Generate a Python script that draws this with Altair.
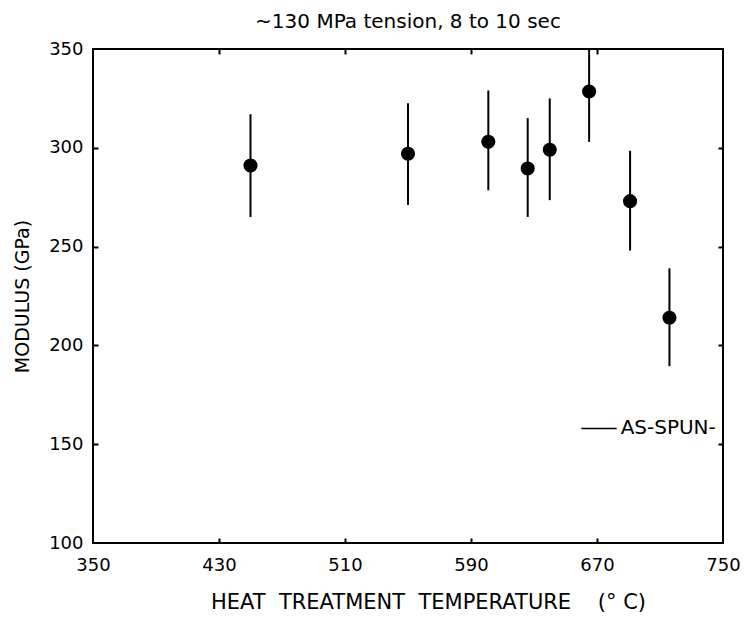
import altair as alt
import pandas as pd

# ---- data ----
temps = [450, 550, 601, 626, 640, 665, 691, 716]
modulus = [291, 297, 303, 289.5, 299, 328.5, 273, 214]
upper = [317, 322.5, 329, 315, 325, 353.5, 298.5, 239]
lower = [265, 271, 278.5, 265, 273.5, 303, 248, 189.5]

x_label_ticks = [350, 430, 510, 590, 670, 750]
y_label_ticks = [100, 150, 200, 250, 300, 350]
x_inner_ticks = [430, 510, 590, 670]
y_inner_ticks = [150, 200, 250, 300]

as_spun_x = [660, 682.5]
as_spun_y = [158]
as_spun_label_x = [685]
as_spun_label = ["AS-SPUN-"]

NB = "\u00a0"
title_text = "~130 MPa tension, 8 to 10 sec"
x_title = ("HEAT" + NB * 2 + "TREATMENT" + NB * 2 + "TEMPERATURE" + NB * 4 + "(°" + NB + "C)")
y_title = "MODULUS (GPa)"

df = pd.DataFrame({"temp": temps, "modulus": modulus, "upper": upper, "lower": lower})
ann = pd.DataFrame({
    "x": [as_spun_x[0]], "x2": [as_spun_x[1]], "y": as_spun_y,
    "tx": as_spun_label_x, "label": as_spun_label,
})

FONT = "DejaVu Sans"
W, H = 630, 494

xscale = alt.Scale(domain=[350, 750], nice=False, zero=False)
yscale = alt.Scale(domain=[100, 350], nice=False, zero=False)


def tick_axis(orient, offset, values):
    return alt.Axis(orient=orient, offset=offset, values=values, labels=False,
                    domain=False, grid=False, ticks=True, tickSize=5, tickWidth=2,
                    tickColor="black", title=None)


bars = alt.Chart(df).mark_rule(color="black", strokeWidth=2, clip=True).encode(
    x=alt.X("temp:Q", scale=xscale, axis=tick_axis("top", -H, x_inner_ticks)),
    y=alt.Y("lower:Q", scale=yscale, axis=tick_axis("right", -W, y_inner_ticks)),
    y2="upper:Q",
)

points = alt.Chart(df).mark_point(filled=True, shape="circle", size=200,
                                  color="black", opacity=1).encode(
    x=alt.X("temp:Q", scale=xscale, axis=alt.Axis(
        orient="bottom", values=x_label_ticks, ticks=False, domain=False, grid=False,
        labelFlush=False, labelFont=FONT, labelFontSize=18, labelColor="black",
        labelPadding=22, labelBaseline="middle",
        title=x_title, titleFont=FONT, titleFontSize=21, titleFontWeight="normal",
        titleColor="black", titleX=335, titleY=59, titleBaseline="middle",
        titleAlign="center")),
    y=alt.Y("modulus:Q", scale=yscale, axis=alt.Axis(
        orient="left", values=y_label_ticks, ticks=False, domain=False, grid=False,
        labelFont=FONT, labelFontSize=18, labelColor="black", labelPadding=10,
        title=y_title, titleFont=FONT, titleFontSize=19, titleFontWeight="normal",
        titleColor="black", titleX=-71, titleY=H / 2, titleBaseline="middle",
        titleAlign="center", titleAngle=270)),
)

ann_rule = alt.Chart(ann).mark_rule(color="black", strokeWidth=1.5).encode(
    x=alt.X("x:Q", scale=xscale, axis=tick_axis("bottom", -H, x_inner_ticks)),
    x2="x2:Q",
    y=alt.Y("y:Q", scale=yscale, axis=tick_axis("left", -W, y_inner_ticks)),
)

ann_text = alt.Chart(ann).mark_text(align="left", baseline="middle", font=FONT,
                                    fontSize=20, color="black").encode(
    x=alt.X("tx:Q", scale=xscale, axis=None),
    y=alt.Y("y:Q", scale=yscale, axis=None),
    text="label:N",
)

chart = alt.layer(bars, points, ann_rule, ann_text).resolve_axis(
    x="independent", y="independent"
).properties(
    width=W, height=H,
    title=alt.TitleParams(text=title_text, font=FONT, fontSize=20, fontWeight="normal",
                          color="black", anchor="middle", frame="group", offset=-8,
                          baseline="alphabetic"),
    autosize=alt.AutoSizeParams(type="none"),
    padding={"left": 85, "top": 41, "right": 17, "bottom": 70},
).configure_view(stroke="black", strokeWidth=2)

chart.save("out.html", embed_options={"renderer": "svg", "actions": False})
